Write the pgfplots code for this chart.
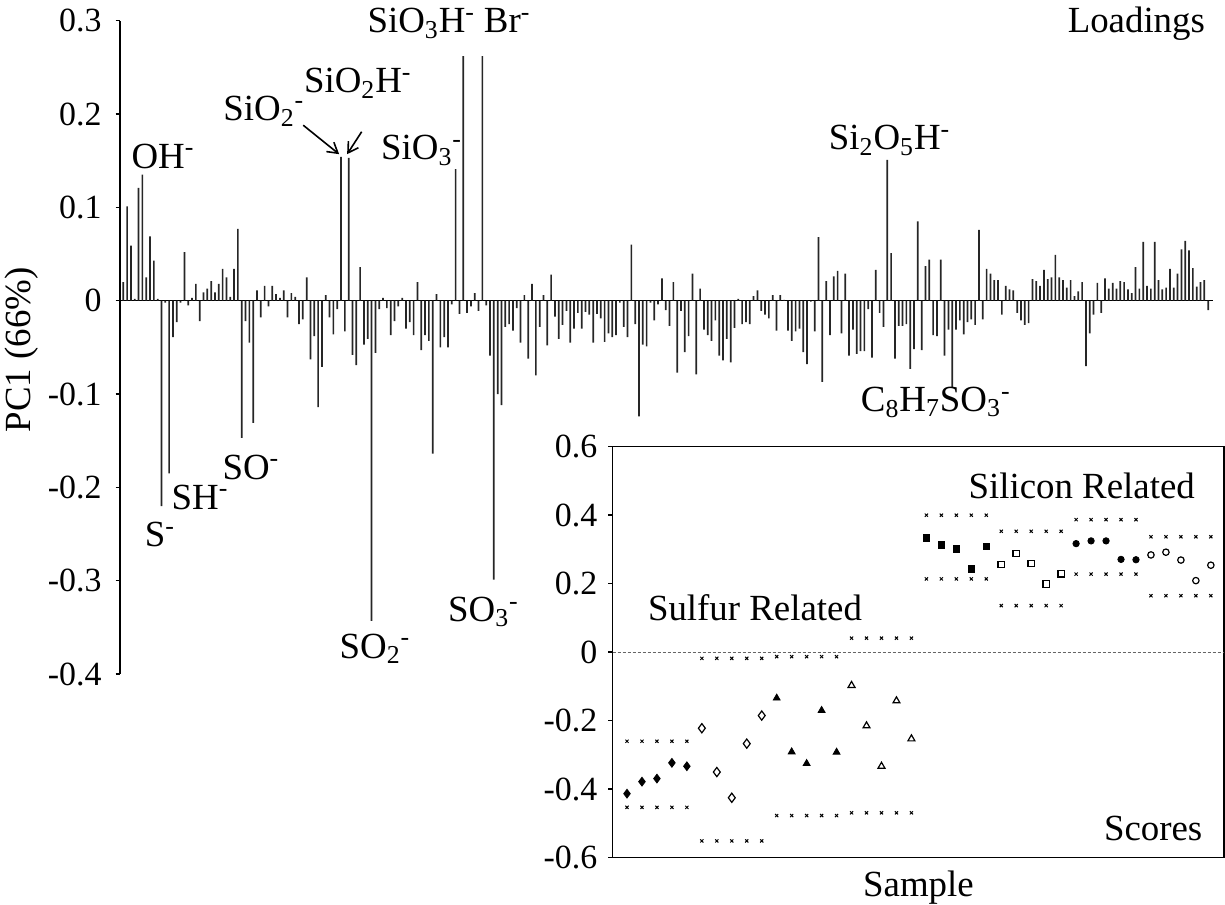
\documentclass[border=0pt]{standalone}
\usepackage{pgfplots}
\pgfplotsset{compat=1.18}
\usepackage{fontspec}
\setmainfont{Liberation Serif}
\usetikzlibrary{arrows.meta}
\newcommand{\lab}{\fontsize{18.5}{18.5}\selectfont}
\newcommand{\tl}{\fontsize{17}{17}\selectfont}
\begin{document}
\begin{tikzpicture}
\path[use as bounding box] (0,0) rectangle (612.5bp,452.5bp);
\begin{axis}[
  scale only axis,
  width=546.5bp, height=326.65bp,
  at={(60bp,115.5bp)}, anchor=south west,
  xmin=0.136, xmax=286.27,
  ymin=-0.4, ymax=0.3,
  axis x line=none,
  axis y line*=left,
  axis line style={line width=0.75bp},
  ytick={-0.4,-0.3,-0.2,-0.1,0,0.1,0.2,0.3},
  yticklabels={-0.4,-0.3,-0.2,-0.1,0,0.1,0.2,0.3},
  tick align=outside,
  major tick length=2.2bp,
  tick style={black,line width=0.75bp},
  yticklabel style={font=\tl, xshift=-3.5bp},
  clip=false,
]
\addplot[black, line width=0.75bp] coordinates {(0.136,0) (286.27,0)};
\addplot[ybar, bar width=0.85bp, bar shift=0pt, fill=black!85, draw=none] table[row sep=\\] {
x y\\
1 0.020\\ 2 0.101\\ 3 0.059\\ 4 0.002\\ 5 0.121\\ 6 0.135\\ 7 0.025\\ 8 0.069\\ 9 0.043\\ 10 0.002\\
11 -0.220\\ 12 -0.002\\ 13 -0.185\\ 14 -0.039\\ 15 -0.023\\ 16 -0.002\\ 17 0.052\\ 18 -0.005\\ 19 0.003\\ 20 0.018\\
21 -0.022\\ 22 0.009\\ 23 0.013\\ 24 0.021\\ 25 0.009\\ 26 0.018\\ 27 0.034\\ 28 0.025\\ 29 0.004\\ 30 0.034\\
31 0.077\\ 32 -0.147\\ 33 -0.022\\ 34 -0.045\\ 35 -0.131\\ 36 0.011\\ 37 -0.018\\ 38 0.016\\ 39 -0.006\\ 40 0.016\\
41 0.007\\ 42 0.003\\ 43 0.011\\ 44 -0.018\\ 45 0.008\\ 46 0.004\\ 47 -0.025\\ 48 -0.020\\ 49 0.025\\ 50 -0.063\\
51 -0.038\\ 52 -0.114\\ 53 -0.071\\ 54 0.006\\ 55 -0.018\\ 56 -0.036\\ 57 -0.009\\ 58 0.154\\ 59 -0.033\\ 60 0.153\\
61 -0.058\\ 62 -0.069\\ 63 0.036\\ 64 -0.047\\ 65 -0.041\\ 66 -0.343\\ 67 -0.056\\ 68 -0.009\\ 69 0.003\\ 70 -0.008\\
71 -0.037\\ 72 -0.022\\ 73 -0.006\\ 74 0.003\\ 75 -0.030\\ 76 -0.023\\ 77 -0.037\\ 78 0.020\\ 79 -0.053\\ 80 -0.037\\
81 -0.043\\ 82 -0.164\\ 83 0.007\\ 84 -0.050\\ 85 -0.039\\ 86 -0.050\\ 87 -0.004\\ 88 0.141\\ 89 -0.014\\ 90 0.262\\
91 -0.013\\ 92 -0.006\\ 93 0.008\\ 94 -0.011\\ 95 0.262\\ 96 -0.005\\ 97 -0.059\\ 98 -0.299\\ 99 -0.100\\ 100 -0.112\\
101 -0.028\\ 102 -0.025\\ 103 -0.032\\ 104 -0.008\\ 105 -0.045\\ 106 0.006\\ 107 -0.062\\ 108 0.018\\ 109 -0.080\\ 110 -0.028\\
111 0.006\\ 112 -0.048\\ 113 0.028\\ 114 -0.017\\ 115 -0.041\\ 116 -0.026\\ 117 -0.011\\ 118 -0.045\\ 119 -0.030\\ 120 -0.013\\
121 -0.030\\ 122 -0.012\\ 123 -0.015\\ 124 -0.045\\ 125 -0.014\\ 126 -0.019\\ 127 -0.044\\ 128 -0.035\\ 129 -0.039\\ 130 -0.037\\
131 -0.002\\ 132 -0.028\\ 133 -0.039\\ 134 0.060\\ 135 -0.025\\ 136 -0.124\\ 137 -0.047\\ 138 -0.049\\ 139 -0.002\\ 140 -0.021\\
141 -0.004\\ 142 0.024\\ 143 -0.010\\ 144 -0.027\\ 145 0.020\\ 146 -0.077\\ 147 -0.011\\ 148 -0.055\\ 149 -0.038\\ 150 0.029\\
151 -0.079\\ 152 0.013\\ 153 -0.031\\ 154 -0.037\\ 155 -0.043\\ 156 -0.021\\ 157 -0.059\\ 158 -0.064\\ 159 -0.041\\ 160 -0.066\\
161 -0.029\\ 162 0.002\\ 163 -0.025\\ 164 -0.023\\ 165 -0.025\\ 166 0.005\\ 167 0.011\\ 168 -0.011\\ 169 -0.015\\ 170 -0.019\\
171 0.006\\ 172 -0.032\\ 173 0.006\\ 174 0.001\\ 175 -0.032\\ 176 -0.043\\ 177 -0.033\\ 178 -0.030\\ 179 -0.055\\ 180 -0.068\\
181 -0.001\\ 182 -0.033\\ 183 0.068\\ 184 -0.087\\ 185 0.021\\ 186 -0.037\\ 187 0.026\\ 188 0.032\\ 189 -0.035\\ 190 0.029\\
191 -0.059\\ 192 -0.031\\ 193 -0.057\\ 194 -0.054\\ 195 -0.054\\ 196 -0.009\\ 197 -0.061\\ 198 0.033\\ 199 -0.013\\ 200 -0.028\\
201 0.151\\ 202 0.051\\ 203 -0.062\\ 204 -0.027\\ 205 -0.027\\ 206 -0.025\\ 207 -0.073\\ 208 -0.052\\ 209 0.085\\ 210 -0.053\\
211 0.037\\ 212 0.044\\ 213 -0.037\\ 214 -0.038\\ 215 0.044\\ 216 -0.059\\ 217 -0.031\\ 218 -0.093\\ 219 -0.031\\ 220 -0.021\\
221 -0.036\\ 222 -0.023\\ 223 -0.020\\ 224 -0.026\\ 225 0.076\\ 226 -0.020\\ 227 0.034\\ 228 0.029\\ 229 0.022\\ 230 0.022\\
231 -0.015\\ 232 0.016\\ 233 0.012\\ 234 0.011\\ 235 -0.013\\ 236 -0.021\\ 237 -0.026\\ 238 -0.024\\ 239 0.023\\ 240 0.021\\
241 0.016\\ 242 0.033\\ 243 0.023\\ 244 0.025\\ 245 0.049\\ 246 0.025\\ 247 0.022\\ 248 0.014\\ 249 0.022\\ 250 0.005\\
251 0.010\\ 252 0.020\\ 253 -0.070\\ 254 -0.035\\ 255 -0.015\\ 256 0.019\\ 257 -0.013\\ 258 0.024\\ 259 0.013\\ 260 0.019\\
261 0.013\\ 262 0.021\\ 263 0.020\\ 264 0.012\\ 265 0.008\\ 266 0.036\\ 267 0.013\\ 268 0.063\\ 269 0.016\\ 270 0.013\\
271 0.063\\ 272 0.022\\ 273 0.012\\ 274 0.014\\ 275 0.034\\ 276 0.014\\ 277 0.029\\ 278 0.055\\ 279 0.064\\ 280 0.054\\
281 0.035\\ 282 0.015\\ 283 0.020\\ 284 0.022\\ 285 -0.010\\
};
\node[rotate=90, font=\lab] at (rel axis cs:-0.0897,0.496) {PC1 (66\%)};
\node[anchor=base east, font=\lab] at (axis cs:286.0,0.287) {Loadings};
\node[anchor=base, font=\lab] at (axis cs:11.4,0.142) {OH\textsuperscript{-}};
\node[anchor=base, font=\lab] at (axis cs:37.8,0.1926) {SiO\textsubscript{2}\textsuperscript{-}};
\node[anchor=base, font=\lab] at (axis cs:62.4,0.2226) {SiO\textsubscript{2}H\textsuperscript{-}};
\node[anchor=base, font=\lab] at (axis cs:79.1,0.1508) {SiO\textsubscript{3}\textsuperscript{-}};
\node[anchor=base, font=\lab] at (axis cs:79,0.287) {SiO\textsubscript{3}H\textsuperscript{-}};
\node[anchor=base, font=\lab] at (axis cs:101.5,0.287) {Br\textsuperscript{-}};
\node[anchor=base, font=\lab] at (axis cs:201.6,0.1615) {Si\textsubscript{2}O\textsubscript{5}H\textsuperscript{-}};
\node[anchor=base, font=\lab] at (axis cs:213.7,-0.119) {C\textsubscript{8}H\textsubscript{7}SO\textsubscript{3}\textsuperscript{-}};
\node[anchor=base, font=\lab] at (axis cs:10.6,-0.2637) {S\textsuperscript{-}};
\node[anchor=base, font=\lab] at (axis cs:21.1,-0.2236) {SH\textsuperscript{-}};
\node[anchor=base, font=\lab] at (axis cs:34.4,-0.1911) {SO\textsuperscript{-}};
\node[anchor=base, font=\lab] at (axis cs:66.9,-0.383) {SO\textsubscript{2}\textsuperscript{-}};
\node[anchor=base, font=\lab] at (axis cs:95.3,-0.344) {SO\textsubscript{3}\textsuperscript{-}};
\draw[-{Straight Barb[length=5bp,width=6bp]}, line width=0.8bp] (axis cs:48.1,0.188) -- (axis cs:57.5,0.157);
\draw[-{Straight Barb[length=5bp,width=6bp]}, line width=0.8bp] (axis cs:63.4,0.181) -- (axis cs:59.6,0.157);
\end{axis}
\begin{axis}[
  scale only axis,
  width=305.65bp, height=205.5bp,
  at={(306.35bp,23.65bp)}, anchor=south west,
  xmin=0.045, xmax=40.88, ymin=-0.6, ymax=0.6,
  axis background/.style={fill=white},
  axis line style={line width=0.75bp},
  xtick=\empty,
  ytick={-0.6,-0.4,-0.2,0,0.2,0.4,0.6},
  yticklabels={-0.6,-0.4,-0.2,0,0.2,0.4,0.6},
  ytick pos=left, tick align=outside,
  major tick length=2.2bp,
  tick style={black,line width=0.75bp},
  yticklabel style={font=\tl, xshift=-2bp},
  clip=false,
]
\addplot[black!60, line width=0.5bp, dash pattern=on 1.5bp off 1bp] coordinates {(0.045,0) (40.88,0)};
\addplot[only marks, mark=x, mark size=1.1bp, mark options={line width=0.5bp}, black] table[row sep=\\] {
x y\\
1 -0.260\\ 2 -0.260\\ 3 -0.260\\ 4 -0.260\\ 5 -0.260\\
1 -0.453\\ 2 -0.453\\ 3 -0.453\\ 4 -0.453\\ 5 -0.453\\
6 -0.018\\ 7 -0.018\\ 8 -0.018\\ 9 -0.018\\ 10 -0.018\\
6 -0.551\\ 7 -0.551\\ 8 -0.551\\ 9 -0.551\\ 10 -0.551\\
11 -0.013\\ 12 -0.013\\ 13 -0.013\\ 14 -0.013\\ 15 -0.013\\
11 -0.477\\ 12 -0.477\\ 13 -0.477\\ 14 -0.477\\ 15 -0.477\\
16 0.041\\ 17 0.041\\ 18 0.041\\ 19 0.041\\ 20 0.041\\
16 -0.469\\ 17 -0.469\\ 18 -0.469\\ 19 -0.469\\ 20 -0.469\\
21 0.400\\ 22 0.400\\ 23 0.400\\ 24 0.400\\ 25 0.400\\
21 0.214\\ 22 0.214\\ 23 0.214\\ 24 0.214\\ 25 0.214\\
26 0.353\\ 27 0.353\\ 28 0.353\\ 29 0.353\\ 30 0.353\\
26 0.136\\ 27 0.136\\ 28 0.136\\ 29 0.136\\ 30 0.136\\
31 0.387\\ 32 0.387\\ 33 0.387\\ 34 0.387\\ 35 0.387\\
31 0.228\\ 32 0.228\\ 33 0.228\\ 34 0.228\\ 35 0.228\\
36 0.337\\ 37 0.337\\ 38 0.337\\ 39 0.337\\ 40 0.337\\
36 0.165\\ 37 0.165\\ 38 0.165\\ 39 0.165\\ 40 0.165\\
};
\addplot[only marks, mark=diamond*, mark size=2.2bp, black] table[row sep=\\] {
x y\\ 1 -0.413\\ 2 -0.378\\ 3 -0.369\\ 4 -0.323\\ 5 -0.333\\
};
\addplot[only marks, mark=diamond, mark size=2.3bp, mark options={line width=0.6bp}, black] table[row sep=\\] {
x y\\ 6 -0.222\\ 7 -0.350\\ 8 -0.425\\ 9 -0.267\\ 10 -0.185\\
};
\addplot[only marks, mark=triangle*, mark size=2bp, black] table[row sep=\\] {
x y\\ 11 -0.134\\ 12 -0.291\\ 13 -0.325\\ 14 -0.170\\ 15 -0.292\\
};
\addplot[only marks, mark=triangle, mark size=2bp, mark options={line width=0.6bp}, black] table[row sep=\\] {
x y\\ 16 -0.097\\ 17 -0.215\\ 18 -0.333\\ 19 -0.142\\ 20 -0.253\\
};
\addplot[only marks, mark=square*, mark size=1.6bp, black] table[row sep=\\] {
x y\\ 21 0.334\\ 22 0.313\\ 23 0.302\\ 24 0.243\\ 25 0.309\\
};
\addplot[only marks, mark=square, mark size=1.6bp, mark options={line width=0.6bp}, black] table[row sep=\\] {
x y\\ 26 0.256\\ 27 0.288\\ 28 0.259\\ 29 0.199\\ 30 0.229\\
};
\addplot[only marks, mark=*, mark size=1.6bp, black] table[row sep=\\] {
x y\\ 31 0.317\\ 32 0.325\\ 33 0.325\\ 34 0.271\\ 35 0.270\\
};
\addplot[only marks, mark=o, mark size=1.6bp, mark options={line width=0.6bp}, black] table[row sep=\\] {
x y\\ 36 0.284\\ 37 0.292\\ 38 0.269\\ 39 0.209\\ 40 0.254\\
};
\node[anchor=base, font=\lab] at (axis cs:9.55,0.0914) {Sulfur Related};
\node[anchor=base east, font=\lab] at (axis cs:39.4,0.4476) {Silicon Related};
\node[anchor=base east, font=\lab] at (axis cs:39.9,-0.551) {Scores};
\node[anchor=base, font=\lab] at (axis cs:20.47,-0.7145) {Sample};
\end{axis}
\end{tikzpicture}
\end{document}
